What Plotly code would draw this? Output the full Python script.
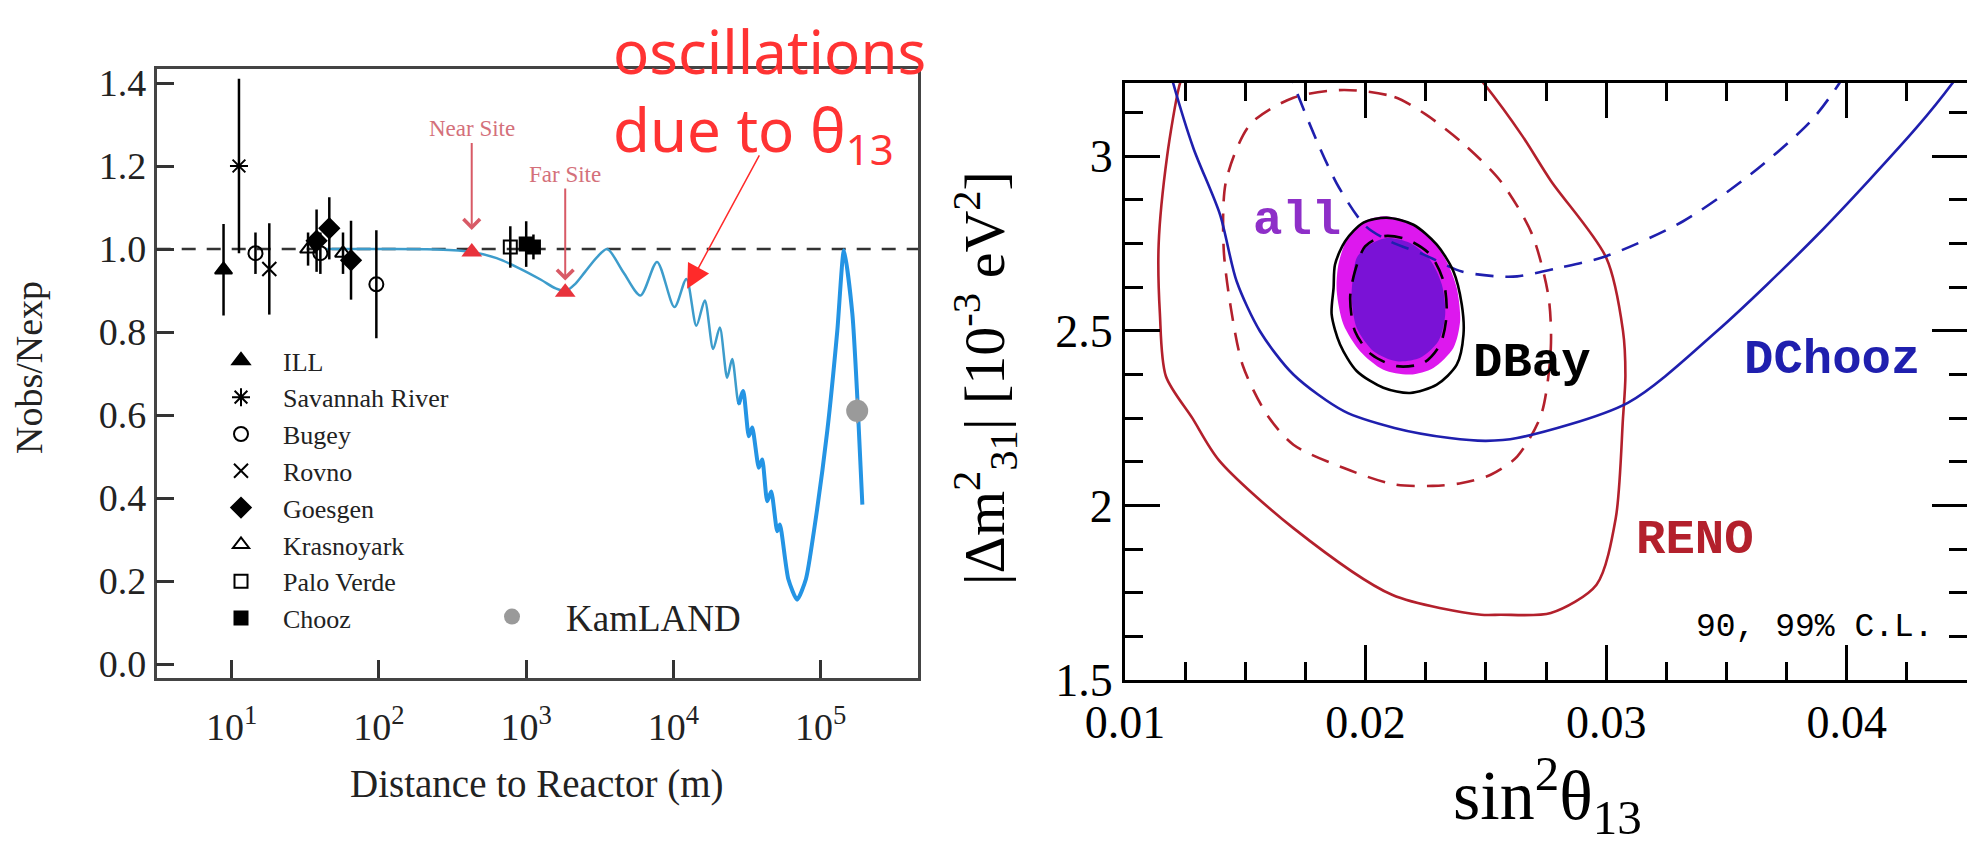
import plotly.graph_objects as go

# ---------------- left panel: reactor experiments ----------------
ill_d = [8.8];  ill_v = [0.95];  ill_e = [0.11]
sr_d = [11.2];  sr_v = [1.20];   sr_e = [0.21]
bugey_d = [14.5, 40.0, 96.0];  bugey_v = [0.99, 0.99, 0.915];  bugey_e = [0.05, 0.05, 0.13]
rovno_d = [18.0];  rovno_v = [0.952];  rovno_e = [0.11]
goesgen_d = [37.7, 46.0, 64.6];  goesgen_v = [1.02, 1.05, 0.973];  goesgen_e = [0.075, 0.075, 0.095]
kras_d = [33.0, 57.0];  kras_v = [1.0, 0.99];  kras_e = [0.04, 0.05]
pv_d = [780.0];  pv_v = [1.005];  pv_e = [0.05]
chooz_d = [1000.0, 1120.0];  chooz_v = [1.012, 1.005];  chooz_e = [0.055, 0.03]
kam_d = [177000.0];  kam_v = [0.61];  kam_e = [0.03]
site_d = [427.0, 1841.0];  site_v = [0.993, 0.896]

# expected survival curve (distance in m, ratio)
curve1_d = [44, 100, 250, 427, 630, 870, 1260, 1585, 1860, 2140, 2510, 3020, 3550, 4570, 5970,
            7740, 10160, 12250, 14320, 16330, 18620, 20650, 23170, 25060, 27800, 29790]
curve1_v = [1.0, 1.0, 0.999, 0.993, 0.978, 0.956, 0.926, 0.905, 0.899, 0.915, 0.945, 0.98, 1.0, 0.944, 0.888,
            0.969, 0.86, 0.928, 0.815, 0.876, 0.759, 0.811, 0.690, 0.735, 0.626, 0.658]
curve2_d = [27800, 29790, 32510, 34280, 38020, 40090, 43350, 46130, 50700, 52840, 60260, 69180,
            79430, 89950, 110900, 129700, 143900, 164100, 177400, 191900]
curve2_v = [0.626, 0.658, 0.549, 0.570, 0.473, 0.493, 0.392, 0.416, 0.320, 0.336, 0.205, 0.155,
            0.205, 0.32, 0.562, 0.803, 0.997, 0.844, 0.642, 0.384]

left_xtick_vals = [1e1, 1e2, 1e3, 1e4, 1e5]
left_xtick_text = ["10<sup>1</sup>", "10<sup>2</sup>", "10<sup>3</sup>", "10<sup>4</sup>", "10<sup>5</sup>"]

# ---------------- right panel: contours (sin^2 theta13, |dm31^2|) ----------------
reno99_x = [0.0125, 0.01225, 0.01175, 0.0114, 0.01145, 0.0117, 0.0128, 0.0139, 0.0170, 0.0211, 0.0248, 0.0256,
            0.0277, 0.0296, 0.0304, 0.0307, 0.0308, 0.0307, 0.0300, 0.0277, 0.0265, 0.0249, 0.0244]
reno99_y = [3.25, 3.20, 3.00, 2.75, 2.55, 2.37, 2.25, 2.13, 1.935, 1.744, 1.687, 1.687,
            1.692, 1.773, 1.964, 2.25, 2.37, 2.50, 2.71, 2.93, 3.06, 3.21, 3.25]
reno90_x = [0.0191, 0.0212, 0.0225, 0.0240, 0.0256, 0.0269, 0.0276, 0.0277, 0.0273, 0.0263, 0.0252, 0.0240,
            0.0228, 0.0212, 0.0191, 0.0170, 0.0159, 0.0149, 0.0144, 0.0141, 0.0142, 0.0152, 0.0170, 0.0191]
reno90_y = [3.19, 3.17, 3.12, 3.04, 2.93, 2.78, 2.60, 2.45, 2.26, 2.14, 2.088, 2.064,
            2.056, 2.06, 2.107, 2.174, 2.26, 2.40, 2.566, 2.738, 2.929, 3.091, 3.168, 3.19]
dc99_x = [0.01185, 0.0120, 0.01284, 0.01395, 0.01464, 0.01561, 0.0170, 0.0191, 0.0212, 0.0235, 0.0250, 0.0263,
          0.0309, 0.0346, 0.0388, 0.0429, 0.0444, 0.0449]
dc99_y = [3.25, 3.21, 3.024, 2.833, 2.642, 2.499, 2.375, 2.27, 2.222, 2.193, 2.185, 2.193,
          2.294, 2.499, 2.776, 3.082, 3.21, 3.26]
dc90_x = [0.0168, 0.0170, 0.0181, 0.0189, 0.0200, 0.0210, 0.0224, 0.0240, 0.0255, 0.0263, 0.0280, 0.0300,
          0.0332, 0.0360, 0.0385, 0.0397, 0.0401]
dc90_y = [3.26, 3.21, 3.024, 2.91, 2.80, 2.757, 2.719, 2.67, 2.656, 2.656, 2.68, 2.714,
          2.814, 2.948, 3.10, 3.21, 3.26]
db99_x = [0.01867, 0.01859, 0.01894, 0.01963, 0.02074, 0.02185, 0.02296, 0.02379, 0.02407, 0.0240, 0.02365,
          0.02296, 0.02199, 0.02088, 0.01991, 0.01915, 0.01873, 0.01867]
db99_y = [2.623, 2.547, 2.461, 2.385, 2.337, 2.322, 2.346, 2.403, 2.489, 2.575, 2.671,
          2.747, 2.804, 2.824, 2.81, 2.757, 2.69, 2.623]
db90_x = [0.01956, 0.01936, 0.01956, 0.02025, 0.0213, 0.0224, 0.0231, 0.02337, 0.02324, 0.02268, 0.02171,
          0.02074, 0.01998, 0.01956]
db90_y = [2.671, 2.595, 2.499, 2.432, 2.399, 2.408, 2.461, 2.547, 2.642, 2.719, 2.762,
          2.771, 2.742, 2.671]
all99_x = [0.01887, 0.0188, 0.01908, 0.01977, 0.02074, 0.02185, 0.02282, 0.02365, 0.02393, 0.02379, 0.02337,
           0.02268, 0.02171, 0.02074, 0.01984, 0.01922, 0.01887]
all99_y = [2.69, 2.614, 2.518, 2.442, 2.389, 2.375, 2.394, 2.451, 2.528, 2.623, 2.699,
           2.766, 2.814, 2.828, 2.81, 2.762, 2.69]
all90_x = [0.01949, 0.01942, 0.01963, 0.02033, 0.0213, 0.02227, 0.02303, 0.02331, 0.02317, 0.02268, 0.02185,
           0.02088, 0.02005, 0.01963, 0.01949]
all90_y = [2.661, 2.595, 2.509, 2.442, 2.413, 2.423, 2.471, 2.547, 2.633, 2.704, 2.752,
           2.766, 2.742, 2.709, 2.661]

W, H = 1975, 865
OFFX, OFFY = 8, 10      # page body offset of the plot div
serif = "Liberation Serif"
mono = "Liberation Mono"
RED = "#b3202c"
BLUE = "#1f1fae"

def px(x):
    return (x - OFFX) / W

def py(y):
    return 1 - (y - OFFY) / H

fig = go.Figure()

# reference line at 1
fig.add_shape(type="line", xref="x domain", yref="y", x0=0, x1=1, y0=1.0, y1=1.0,
              line=dict(color="#333333", width=2.5, dash="14px,11px"), layer="below")

# curve
fig.add_trace(go.Scatter(x=curve1_d, y=curve1_v, mode="lines", showlegend=False, hoverinfo="skip",
                         line=dict(color="#3d9ccb", width=2.5, shape="spline", smoothing=0.8),
                         xaxis="x", yaxis="y"))
fig.add_trace(go.Scatter(x=curve2_d, y=curve2_v, mode="lines", showlegend=False, hoverinfo="skip",
                         line=dict(color="#2494e4", width=4, shape="spline", smoothing=0.6),
                         xaxis="x", yaxis="y"))

def pts(name, d, v, e, symbol, size, lw=2):
    fig.add_trace(go.Scatter(
        x=d, y=v, mode="markers", name=name, xaxis="x", yaxis="y", legend="legend",
        error_y=dict(type="data", array=e, visible=True, thickness=2.5, width=0, color="black"),
        marker=dict(symbol=symbol, size=size, color="black", line=dict(color="black", width=lw))))

pts("ILL", ill_d, ill_v, ill_e, "triangle-up", 15)
pts("Savannah River", sr_d, sr_v, sr_e, "asterisk-open", 15)
pts("Bugey", bugey_d, bugey_v, bugey_e, "circle-open", 14)
pts("Rovno", rovno_d, rovno_v, rovno_e, "x-thin-open", 14)
pts("Goesgen", goesgen_d, goesgen_v, goesgen_e, "diamond", 15)
pts("Krasnoyark", kras_d, kras_v, kras_e, "triangle-up-open", 14)
pts("Palo Verde", pv_d, pv_v, pv_e, "square-open", 13)
pts("Chooz", chooz_d, chooz_v, chooz_e, "square", 13)

fig.add_trace(go.Scatter(x=kam_d, y=kam_v, mode="markers", name="KamLAND", xaxis="x", yaxis="y",
                         legend="legend2",
                         error_y=dict(type="data", array=kam_e, visible=True, thickness=2, width=0, color="#999999"),
                         marker=dict(symbol="circle", size=22, color="#9a9a9a")))

fig.add_trace(go.Scatter(x=site_d, y=site_v, mode="markers", showlegend=False, xaxis="x", yaxis="y",
                         marker=dict(symbol="triangle-up", size=18, color="#e8333c")))

# ---------------- right panel traces ----------------
def contour(x, y, color, dash, width=2.6, fill=None):
    fig.add_trace(go.Scatter(
        x=x, y=y, mode="lines", showlegend=False, hoverinfo="skip", xaxis="x2", yaxis="y2",
        fill="toself" if fill else None, fillcolor=fill,
        line=dict(color=color, width=width, dash=dash, shape="spline", smoothing=0.8)))

contour(reno99_x, reno99_y, RED, "solid")
contour(reno90_x, reno90_y, RED, "18px,12px")
contour(dc99_x, dc99_y, BLUE, "solid")
contour(all99_x, all99_y, "rgba(0,0,0,0)", "solid", width=0, fill="#dd18ee")
contour(all90_x, all90_y, "rgba(0,0,0,0)", "solid", width=0, fill="#7a12d6")
contour(dc90_x, dc90_y, BLUE, "18px,12px")
contour(db99_x, db99_y, "black", "solid")
contour(db90_x, db90_y, "black", "18px,12px")

# ---------------- layout ----------------
axis_font_l = dict(family=serif, size=38, color="#222222")
axis_font_r = dict(family=serif, size=46, color="black")

fig.update_layout(
    width=W, height=H, margin=dict(l=0, r=0, t=0, b=0, autoexpand=False),
    paper_bgcolor="white", plot_bgcolor="white",
    xaxis=dict(domain=[px(156.7), px(918)], type="log", range=[0.4905, 5.661], anchor="y",
               tickmode="array", tickvals=left_xtick_vals, ticktext=left_xtick_text,
               ticks="inside", ticklen=18, tickwidth=2.5, tickcolor="#333333", ticklabelstandoff=14,
               showline=True, linecolor="#444444", linewidth=2.5, mirror=True, automargin=False,
               showgrid=False, zeroline=False, tickfont=axis_font_l),
    yaxis=dict(domain=[py(680), py(70.7)], range=[-0.0337, 1.4345], anchor="x",
               tick0=0, dtick=0.2, tickformat=".1f",
               ticks="inside", ticklen=18, tickwidth=2.5, tickcolor="#333333",
               showline=True, linecolor="#444444", linewidth=2.5, mirror=True, automargin=False,
               showgrid=False, zeroline=False, tickfont=axis_font_l),
    xaxis2=dict(domain=[px(1125), px(1967)], range=[0.01, 0.045], anchor="y2",
                tick0=0.01, dtick=0.01, tickformat=".2f",
                ticks="inside", ticklen=35, tickwidth=2.5, tickcolor="black",
                minor=dict(dtick=0.0025, tick0=0.01, ticks="inside", ticklen=18, tickwidth=2.5, tickcolor="black"),
                showline=True, linecolor="black", linewidth=3, mirror="ticks", automargin=False,
                showgrid=False, zeroline=False, tickfont=axis_font_r),
    yaxis2=dict(domain=[py(682), py(85)], range=[1.5, 3.21], anchor="x2",
                tick0=1.5, dtick=0.5,
                ticks="inside", ticklen=35, tickwidth=2.5, tickcolor="black",
                minor=dict(dtick=0.125, tick0=1.5, ticks="inside", ticklen=18, tickwidth=2.5, tickcolor="black"),
                showline=True, linecolor="black", linewidth=3, mirror="ticks", automargin=False,
                showgrid=False, zeroline=False, tickfont=axis_font_r),
    legend=dict(x=px(199), y=py(339), xanchor="left", yanchor="top", itemwidth=74,
                bgcolor="rgba(0,0,0,0)", font=dict(family=serif, size=26, color="#222222"),
                tracegroupgap=0),
    legend2=dict(x=px(458), y=py(588), xanchor="left", yanchor="top", itemwidth=98,
                 bgcolor="rgba(0,0,0,0)", font=dict(family=serif, size=37, color="#222222")),
)

def pann(text, x, y, size, color, family=serif, angle=0, xanchor="center", yanchor="middle"):
    return dict(text=text, xref="paper", yref="paper", x=px(x), y=py(y), xanchor=xanchor, yanchor=yanchor,
                textangle=angle, showarrow=False, font=dict(family=family, size=size, color=color))

ann = []
# titles
ann.append(pann("Distance to Reactor (m)", 537, 786, 39, "#222222"))
ann.append(pann("Nobs/Nexp", 29, 370, 38, "#222222", angle=-90))
ann.append(pann("sin<sup>2</sup>θ<sub>13</sub>", 1547, 797, 70, "black"))
ann.append(pann("|Δm<sup>2</sup><sub>31</sub>| [10<sup>-3</sup> eV<sup>2</sup>]", 985, 380, 58, "black", angle=-90))
# oscillations annotation (two lines in one text block)
osc = pann("oscillations<br>due to θ<sub>13</sub>", 612, 11, 60, "#ff3333", family="Noto Sans",
           xanchor="left", yanchor="top")
osc["align"] = "left"
osc["borderpad"] = 0
ann.append(osc)
ann.append(dict(text="", x=4.093, y=0.904, xref="x", yref="y", showarrow=True, axref="pixel", ayref="pixel",
                ax=73, ay=-135, arrowhead=2, arrowsize=3.2, arrowwidth=1.5, arrowcolor="#ff2a2a"))
# near / far site
ann.append(dict(text="Near Site", x=2.63, y=1.046, xref="x", yref="y", showarrow=True, ax=0, ay=-101,
                arrowhead=4, arrowsize=1.6, arrowwidth=2, arrowcolor="#d85a66",
                font=dict(family=serif, size=23, color="#d4707a")))
ann.append(dict(text="Far Site", x=3.265, y=0.924, xref="x", yref="y", showarrow=True, ax=0, ay=-106,
                arrowhead=4, arrowsize=1.6, arrowwidth=2, arrowcolor="#d85a66",
                font=dict(family=serif, size=23, color="#d4707a")))
# right panel labels
ann.append(dict(text="<b>all</b>", x=0.01715, y=2.815, xref="x2", yref="y2", showarrow=False,
                font=dict(family=mono, size=49, color="#8e2fc8")))
ann.append(dict(text="<b>DBay</b>", x=0.0269, y=2.408, xref="x2", yref="y2", showarrow=False,
                font=dict(family=mono, size=49, color="black")))
ann.append(dict(text="<b>DChooz</b>", x=0.0394, y=2.418, xref="x2", yref="y2", showarrow=False,
                font=dict(family=mono, size=49, color=BLUE)))
ann.append(dict(text="<b>RENO</b>", x=0.0337, y=1.902, xref="x2", yref="y2", showarrow=False,
                font=dict(family=mono, size=49, color=RED)))
ann.append(dict(text="90, 99% C.L.", x=0.0387, y=1.651, xref="x2", yref="y2", showarrow=False,
                font=dict(family=mono, size=33, color="black")))
fig.update_layout(annotations=ann)

fig.write_html("out.html")
